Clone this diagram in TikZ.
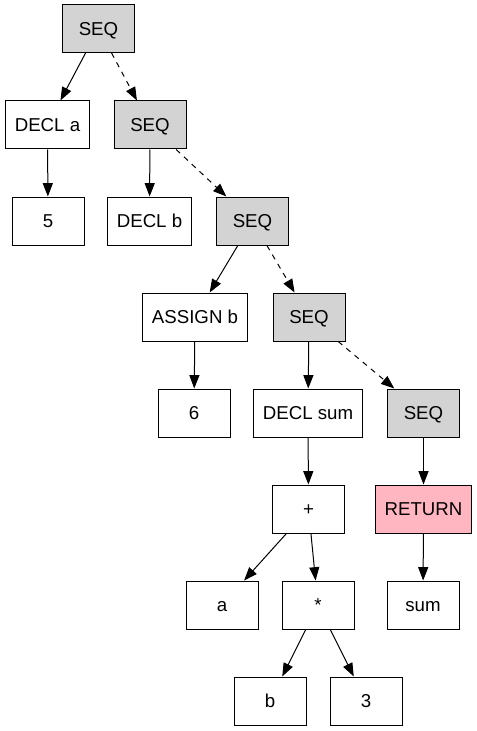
\documentclass[tikz,border=0pt]{standalone}
\usepackage{fontspec}
\setmainfont{Liberation Sans}
\usepackage{xcolor}
\usetikzlibrary{arrows.meta}
\definecolor{seqgray}{HTML}{D3D3D3}
\definecolor{retpink}{HTML}{FFB6C1}

\begin{document}
\begin{tikzpicture}[
    x=0.75pt, y=-0.75pt,
    astnode/.style={draw=black, line width=0.75pt, fill=white, minimum width=54pt, minimum height=36pt,
        inner xsep=7pt, text height=10pt, text depth=0pt, font=\fontsize{14pt}{16pt}\selectfont},
    seqnode/.style={astnode, fill=seqgray},
    retnode/.style={astnode, fill=retpink},
    child/.style={-{Triangle[length=10pt,width=7.5pt]}, line width=0.75pt},
    nextstmt/.style={child, dash pattern=on 4pt off 4pt},
    ]
    \useasboundingbox (0,0) rectangle (477,731);
    % statement chain
    \node[seqnode] (seq1) at (98.5,28.5) {SEQ};
    \node[astnode] (decla) at (47.5,125) {DECL a};
    \node[seqnode] (seq2) at (150,125) {SEQ};
    \node[astnode] (five) at (48,221) {5};
    \node[astnode] (declb) at (149.5,221) {DECL b};
    \node[seqnode] (seq3) at (252.5,221) {SEQ};
    \node[astnode] (assignb) at (195,317) {ASSIGN b};
    \node[seqnode] (seq4) at (309,317) {SEQ};
    \node[astnode] (six) at (194,413) {6};
    \node[astnode] (declsum) at (308,413) {DECL sum};
    \node[seqnode] (seq5) at (423.5,413) {SEQ};
    % expressions
    \node[astnode] (plus) at (308.5,509) {+};
    \node[retnode] (ret) at (423.5,509) {RETURN};
    \node[astnode] (vara) at (222,605) {a};
    \node[astnode] (times) at (318,605) {*};
    \node[astnode] (varsum) at (423,605) {sum};
    \node[astnode] (varb) at (270,701) {b};
    \node[astnode] (three) at (366,701) {3};

    \draw[child] (seq1) -- (decla);
    \draw[nextstmt] (seq1) -- (seq2);
    \draw[child] (decla) -- (five);
    \draw[child] (seq2) -- (declb);
    \draw[nextstmt] (seq2) -- (seq3);
    \draw[child] (seq3) -- (assignb);
    \draw[nextstmt] (seq3) -- (seq4);
    \draw[child] (assignb) -- (six);
    \draw[child] (seq4) -- (declsum);
    \draw[nextstmt] (seq4) -- (seq5);
    \draw[child] (declsum) -- (plus);
    \draw[child] (seq5) -- (ret);
    \draw[child] (plus) -- (vara);
    \draw[child] (plus) -- (times);
    \draw[child] (ret) -- (varsum);
    \draw[child] (times) -- (varb);
    \draw[child] (times) -- (three);
\end{tikzpicture}
\end{document}
